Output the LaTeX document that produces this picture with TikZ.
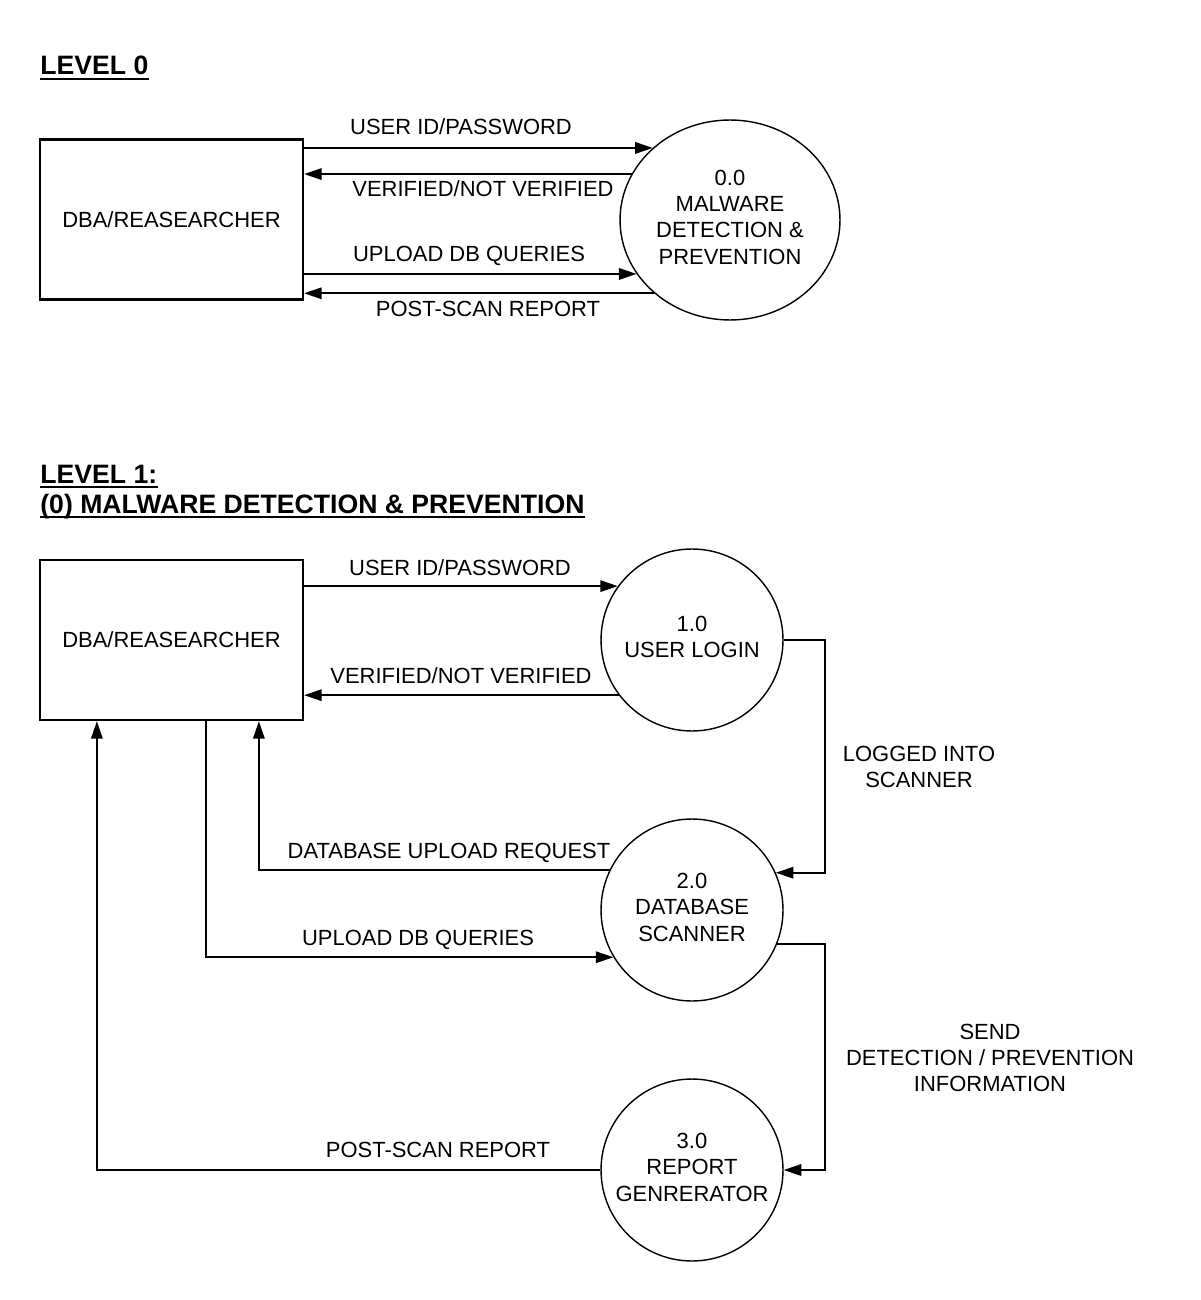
\documentclass[tikz,border=0pt]{standalone}
\usepackage{fontspec}
\setmainfont{Liberation Sans}
\usetikzlibrary{arrows.meta,shapes.geometric,calc}
\begin{document}
\begin{tikzpicture}[x=0.02cm,y=-0.02cm,
ext/.style={draw, line width=1.3pt, minimum width=5.26cm, minimum height=3.2cm, inner sep=0pt, font=\fontsize{12.5}{15}\selectfont},
prc/.style={draw, circle, line width=0.8pt, minimum size=3.64cm, inner sep=0pt, text depth=3.4pt, align=center, font=\fontsize{12.5}{15}\selectfont},
flw/.style={line width=1.1pt, -{Triangle[length=10pt,width=6.5pt]}},
lbl/.style={anchor=base, inner sep=0pt, align=center, font=\fontsize{12.5}{15}\selectfont},
hdr/.style={anchor=base west, inner sep=0pt, font=\fontsize{15.15}{17}\selectfont\bfseries},
uln/.style={line width=1.5pt}]
\useasboundingbox (0,0) rectangle (1200,1300);
\node[hdr] (hdr0) at (40,75){LEVEL 0};
\draw[uln]([yshift=-2.3pt]hdr0.base west) -- ([yshift=-2.3pt]hdr0.base east);
\node[ext] (ext0) at (171.5,219.5){DBA/REASEARCHER};
\node[prc, ellipse, minimum width=4.4cm, minimum height=4cm] (prc0) at (730,220){0.0\\MALWARE\\DETECTION \&\\PREVENTION};
\draw[flw](ext0.east |- prc0.137) -- (prc0.137);
\draw[flw](prc0.155) -- (prc0.155 -| ext0.east);
\draw[flw](ext0.east |- prc0.210) -- (prc0.210);
\draw[flw](prc0.224) -- (prc0.224 -| ext0.east);
\node[lbl] (lab0) at (461,135){USER ID/PASSWORD};
\node[lbl] (lab1) at (483,197){VERIFIED/NOT VERIFIED};
\node[lbl] (lab2) at (469,262){UPLOAD DB QUERIES};
\node[lbl] (lab3) at (488,317){POST-SCAN REPORT};

\node[hdr] (hdr1) at (40,483){LEVEL 1:};
\draw[uln]([yshift=-2.3pt]hdr1.base west) -- ([yshift=-2.3pt]hdr1.base east);
\node[hdr] (hdr2) at (40,513){(0) MALWARE DETECTION \& PREVENTION};
\draw[uln]([yshift=-2.3pt]hdr2.base west) -- ([yshift=-2.3pt]hdr2.base east);
\node[ext] (ext1) at (171.5,640){DBA/REASEARCHER};
\node[prc] (prc1) at (692,640){1.0\\USER LOGIN};
\node[prc] (prc2) at (692,910){2.0\\DATABASE\\SCANNER};
\node[prc] (prc3) at (692,1170){3.0\\REPORT\\GENRERATOR};
\draw[flw](ext1.east |- prc1.144) -- (prc1.144);
\draw[flw](prc1.217) -- (prc1.217 -| ext1.east);
\draw[flw](prc1.east) -- ++(41,0) |- (prc2.24);
\draw[flw](prc2.154) -| ($(ext1.south west)+(220,0)$);
\draw[flw]($(ext1.south west)+(167,0)$) |- (prc2.211);
\draw[flw](prc2.338) -| ($(prc3.east)+(41,0)$) -- (prc3.east);
\draw[flw](prc3.west) -| ($(ext1.south west)+(58,0)$);
\node[lbl] (lab4) at (460,575){USER ID/PASSWORD};
\node[lbl] (lab5) at (461,683){VERIFIED/NOT VERIFIED};
\node[lbl, anchor=center] (lab6) at (919,767){LOGGED INTO\\SCANNER};
\node[lbl] (lab8) at (449,858){DATABASE UPLOAD REQUEST};
\node[lbl] (lab9) at (418,945){UPLOAD DB QUERIES};
\node[lbl, anchor=center] (lab7) at (990,1058){SEND\\DETECTION / PREVENTION\\INFORMATION};
\node[lbl] (lab10) at (438,1157){POST-SCAN REPORT};
\end{tikzpicture}
\end{document}
